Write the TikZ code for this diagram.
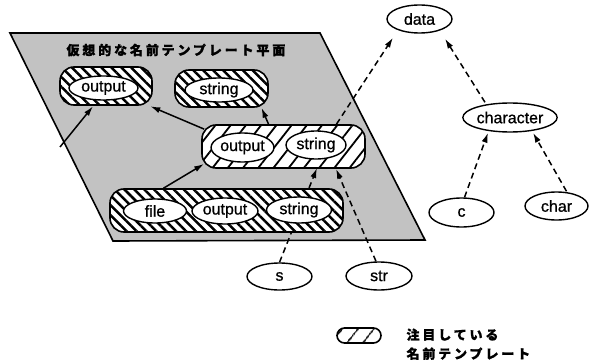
\documentclass[tikz,border=0pt]{standalone}
\usepackage{fontspec}
\setmainfont{Liberation Sans}[FakeBold=0.8]
\newfontfamily\jp[LetterSpace=22,BoldFeatures={FakeBold=1.2}]{Noto Sans CJK JP}
\usetikzlibrary{arrows.meta,patterns.meta,shapes.geometric,calc}
\tikzset{
  lbl/.style={ellipse, draw, line width=1.4pt, fill=white, inner sep=0pt,
    font=\fontsize{16}{16}\selectfont},
  grpA/.style={draw, line width=1.6pt, rounded corners=14pt, inner sep=0pt,
    preaction={fill=white},
    pattern={Lines[angle=-45,distance=7pt,line width=2.5pt]}},
  grpB/.style={draw, line width=1.6pt, rounded corners=14pt, inner sep=0pt,
    preaction={fill=white},
    pattern={Lines[angle=52,distance=12pt,line width=1.8pt]}},
  arr/.style={line width=1.5pt, -{Latex[length=10pt,width=6pt]}},
  darr/.style={arr, dash pattern=on 6pt off 4pt},
  jptext/.style={font=\jp\bfseries\fontsize{13}{19}\selectfont},
}
\begin{document}
\begin{tikzpicture}[x=1pt,y=1pt]
\useasboundingbox (0,0) rectangle (596,362);
% plane
\fill[black!24] (10,329) -- (320,329) -- (425,122) -- (113,121) -- cycle;
\draw[line width=1.6pt] (10,329) -- (320,329) -- (425,122) -- (113,121) -- cycle;
\node[jptext, anchor=west] (title) at (63,312) {仮想的な名前テンプレート平面};

% nodes outside plane
\node[lbl, minimum width=65pt, minimum height=27pt] (s) at (279.5,85.5) {s};
\node[lbl, minimum width=66pt, minimum height=28pt] (str) at (379,86) {str};
\node[lbl, minimum width=65pt, minimum height=28pt] (data) at (419.5,343) {data};
\node[lbl, minimum width=86pt, minimum height=29pt] (character) at (510,244.5) {character};
\node[lbl, minimum width=65pt, minimum height=29pt] (c) at (461.5,149.5) {c};
\node[lbl, minimum width=63pt, minimum height=28pt] (char) at (556.5,156) {char};

\coordinate (g3c) at (283.5,215.5);
% dashed line that passes beneath the bottom group
\draw[darr] (s.north) -- ([xshift=33.5pt]g3c |- 0,194);

% groups
\node[grpA, minimum width=92pt, minimum height=38pt] (g1) at (106,276) {};
\node[lbl, minimum width=69pt, minimum height=24pt] (e1) at (103.5,274) {output};
\node[grpA, minimum width=93pt, minimum height=37pt] (g2) at (221.5,273.5) {};
\node[lbl, minimum width=68pt, minimum height=24pt] (e2) at (219,272) {string};
\node[grpB, minimum width=163pt, minimum height=43pt] (g3) at (283.5,215.5) {};
\node[lbl, minimum width=61pt, minimum height=29pt] (e3a) at (242.5,214.5) {output};
\node[lbl, minimum width=60pt, minimum height=28pt] (e3b) at (316,217) {string};
\node[grpA, minimum width=233pt, minimum height=43pt] (g4) at (226.5,151.5) {};
\node[lbl, minimum width=63pt, minimum height=24pt] (e4a) at (155,151) {file};
\node[lbl, minimum width=66pt, minimum height=26pt] (e4b) at (225,151) {output};
\node[lbl, minimum width=65pt, minimum height=26pt] (e4c) at (299,152) {string};

% solid arrows
\coordinate (f1) at (60,215);
\draw[arr] (f1) -- ([xshift=-13pt]g1.south);
\draw[arr] ([xshift=3pt,yshift=-5pt]g3.north west) -- ([xshift=-3pt]g1.south east);
\draw[arr] ([xshift=-15pt]g3.north) -- ([xshift=40pt]g2.south);
\draw[arr] ([xshift=-63pt]g4.north) -- ([xshift=3pt,yshift=5pt]g3.south west);

% dashed arrows
\draw[darr] ([xshift=-3pt]str.north) -- ([xshift=52.5pt]g3.south);
\draw[darr] ([xshift=53pt]g3.north) -- ([xshift=-26.5pt,yshift=-4pt]data.south);
\draw[darr] ([xshift=-25pt]character.north) -- ([xshift=25.5pt,yshift=-5pt]data.south);
\draw[darr] ([xshift=3pt]c.north) -- ([xshift=-22pt]character.south);
\draw[darr] ([xshift=10pt]char.north) -- ([xshift=23pt]character.south);

% legend
\node[grpB, rounded corners=7.5pt, minimum width=44pt, minimum height=15pt,
  pattern={Lines[angle=52,distance=13pt,line width=1.6pt]}] (leg) at (359,26.5) {};
\node[jptext, anchor=north west, align=left] (legtext) at (403,37) {注目している\\名前テンプレート};
\end{tikzpicture}
\end{document}
